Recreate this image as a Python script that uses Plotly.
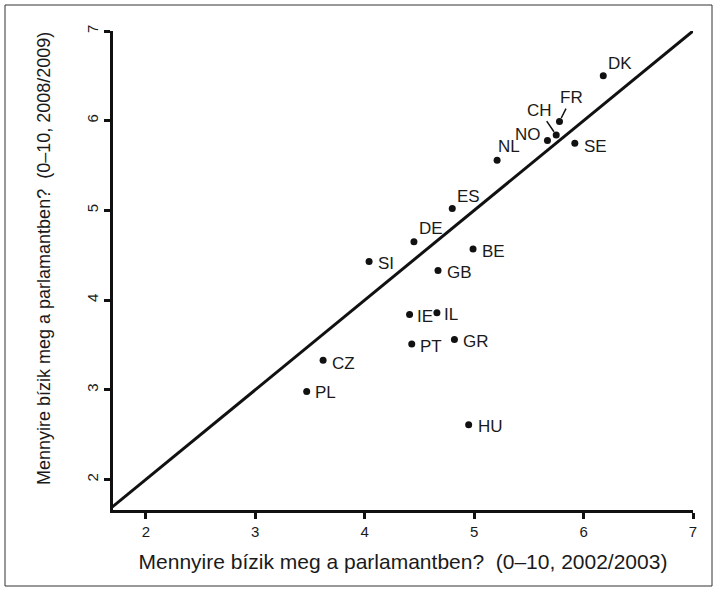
import plotly.graph_objects as go

# ---- data ----
countries = ["DK", "FR", "CH", "NO", "SE", "NL", "ES", "DE", "BE", "SI",
             "GB", "IE", "IL", "PT", "GR", "CZ", "PL", "HU"]
trust_2002 = [6.18, 5.78, 5.75, 5.67, 5.92, 5.21, 4.80, 4.45, 4.99, 4.04,
              4.67, 4.41, 4.66, 4.43, 4.82, 3.62, 3.47, 4.95]
trust_2008 = [6.50, 5.99, 5.84, 5.78, 5.75, 5.56, 5.02, 4.65, 4.57, 4.43,
              4.33, 3.84, 3.86, 3.51, 3.56, 3.33, 2.98, 2.61]
diag = [1.66, 7.0]
x_ticks = [2, 3, 4, 5, 6, 7]
y_ticks = [2, 3, 4, 5, 6, 7]
x_title = "Mennyire bízik meg a parlamantben?  (0–10, 2002/2003)"
y_title = "Mennyire bízik meg a parlamantben?  (0–10, 2008/2009)"

# ---- label placement (pixel offsets, style only) ----
label_style = {
    "DK": dict(anchor="left", dx=3, dy=12),
    "NO": dict(anchor="right", dx=-4, dy=6),
    "SE": dict(anchor="left", dx=7, dy=-3),
    "NL": dict(anchor="left", dx=-1, dy=14),
    "ES": dict(anchor="left", dx=3, dy=12),
    "DE": dict(anchor="left", dx=3, dy=13),
    "BE": dict(anchor="left", dx=7, dy=-3),
    "SI": dict(anchor="left", dx=7, dy=-2),
    "GB": dict(anchor="left", dx=7, dy=-2),
    "IE": dict(anchor="left", dx=5, dy=-2),
    "IL": dict(anchor="left", dx=5, dy=-2),
    "PT": dict(anchor="left", dx=6, dy=-2),
    "GR": dict(anchor="left", dx=7, dy=-2),
    "CZ": dict(anchor="left", dx=7, dy=-3),
    "PL": dict(anchor="left", dx=6, dy=-1),
    "HU": dict(anchor="left", dx=7, dy=-2),
}
leader_style = {"FR": (12, -24), "CH": (-17, -25)}

FONT = "Liberation Sans, Arial, sans-serif"
W, H = 717, 592
ML, MR, MT, MB = 113, 24, 31, 82

fig = go.Figure()
fig.add_trace(go.Scatter(x=diag, y=diag, mode="lines",
                         line=dict(color="#111111", width=3),
                         hoverinfo="skip", showlegend=False))
fig.add_trace(go.Scatter(x=trust_2002, y=trust_2008, mode="markers",
                         marker=dict(color="#111111", size=7),
                         text=countries, showlegend=False))

annotations = []
for c, xv, yv in zip(countries, trust_2002, trust_2008):
    if c in leader_style:
        ax, ay = leader_style[c]
        annotations.append(dict(x=xv, y=yv, text=c, showarrow=True,
                                arrowhead=0, arrowwidth=1.5, arrowcolor="#111111",
                                ax=ax, ay=ay, standoff=4, startstandoff=0,
                                font=dict(family=FONT, size=17, color="#1a1a1a")))
    else:
        s = label_style[c]
        annotations.append(dict(x=xv, y=yv, text=c, showarrow=False,
                                xanchor=s["anchor"], yanchor="middle",
                                xshift=s["dx"], yshift=s["dy"],
                                font=dict(family=FONT, size=17, color="#1a1a1a")))

pw = W - ML - MR
ph = H - MT - MB

# y-axis title as rotated annotation (centre at pixel 44, 259)
annotations.append(dict(xref="paper", yref="paper",
                        x=(44 - ML) / pw, y=(H - MB - 259) / ph,
                        text=y_title, textangle=-90, showarrow=False,
                        xanchor="center", yanchor="middle",
                        font=dict(family=FONT, size=18, color="#1a1a1a")))

bx0, bx1, by0, by1 = 5, 712, 5, 586
fig.add_shape(type="rect", xref="paper", yref="paper",
              x0=(bx0 - ML) / pw, x1=(bx1 - ML) / pw,
              y0=(H - MB - by1) / ph, y1=(H - MB - by0) / ph,
              line=dict(color="#333333", width=1), layer="above")

fig.update_layout(
    width=W, height=H,
    margin=dict(l=ML, r=MR, t=MT, b=MB),
    paper_bgcolor="white", plot_bgcolor="white",
    font=dict(family=FONT, color="#1a1a1a"),
    annotations=annotations,
    showlegend=False,
)
fig.update_xaxes(range=[1.7, 7.0], tickvals=x_ticks, showgrid=False, zeroline=False,
                 showline=True, linewidth=3, linecolor="#111111",
                 ticks="outside", ticklen=6, tickwidth=3, tickcolor="#111111",
                 tickfont=dict(size=15, family=FONT),
                 title=dict(text=x_title, font=dict(size=21, family=FONT), standoff=16))
fig.update_yaxes(range=[1.66, 7.0], tickvals=y_ticks, showgrid=False, zeroline=False,
                 showline=True, linewidth=3, linecolor="#111111",
                 ticks="outside", ticklen=6, tickwidth=3, tickcolor="#111111",
                 tickangle=-90,
                 tickfont=dict(size=15, family=FONT))

fig.write_html("out.html", config={"displayModeBar": False},
               post_script="document.body.style.margin='0';document.body.style.overflow='hidden';")
